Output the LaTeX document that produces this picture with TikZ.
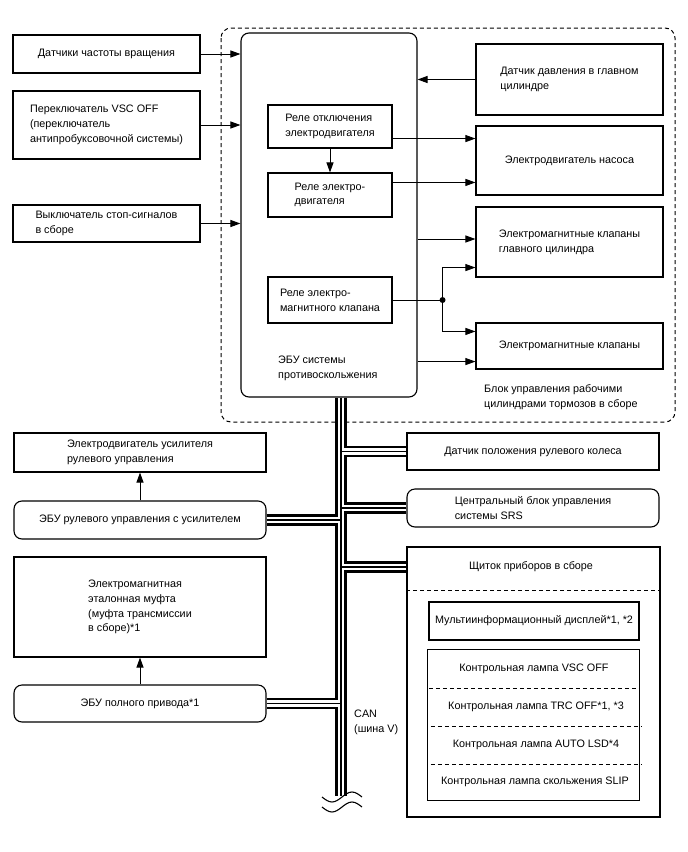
\documentclass[tikz,border=0pt]{standalone}
\usepackage{fontspec}
\setmainfont{Liberation Sans}
\usetikzlibrary{arrows.meta}
\newcommand{\dfont}{\fontsize{10.8}{14.7}\selectfont}
\tikzset{b/.style={draw,line width=1.1pt,align=left,font=\dfont,inner sep=2pt},
 o/.style={b,rounded corners=8pt},
 tx/.style={align=left,font=\dfont,inner sep=0pt},
 ar/.style={line width=1pt,-{Triangle[length=10pt,width=7pt]}},
 dsh/.style={line width=1pt,dash pattern=on 4pt off 3pt},
 bus/.style={draw=white,line width=6.5pt,preaction={draw=black,line width=11.5pt},postaction={draw=black,line width=1.3pt}}}

\begin{document}
\begin{tikzpicture}[x=1pt,y=-1pt]
\useasboundingbox (0,0) rectangle (688,852);
\draw[dsh,rounded corners=10pt] (221,28) rectangle (675,422);
\node[o,minimum width=176pt,minimum height=364pt](ecu) at (329,215){};
\node[tx,anchor=west](ecul) at (278,368){ЭБУ системы\\противоскольжения};
\node[b,minimum width=187pt,minimum height=38pt](spd) at (106.5,54){Датчики частоты вращения};
\node[b,minimum width=187pt,minimum height=68pt](vsc) at (106.5,125){Переключатель VSC OFF\\(переключатель\\антипробуксовочной системы)};
\node[b,minimum width=187pt,minimum height=37pt](stp) at (106.5,223.5){Выключатель стоп-сигналов\\в сборе};
\node[b,minimum width=124pt,minimum height=43pt](r1) at (330,126.5){Реле отключения\\электродвигателя};
\node[b,minimum width=124pt,minimum height=44pt](r2) at (330,195){Реле электро-\\двигателя};
\node[b,minimum width=124pt,minimum height=46pt](r3) at (330,300){Реле электро-\\магнитного клапана};
\node[b,minimum width=187pt,minimum height=71pt](prs) at (569.5,79.5){Датчик давления в главном\\цилиндре};
\node[b,minimum width=187pt,minimum height=69pt](pump) at (569.5,160.5){Электродвигатель насоса};
\node[b,minimum width=187pt,minimum height=70pt](sv1) at (569.5,242){Электромагнитные клапаны\\главного цилиндра};
\node[b,minimum width=187pt,minimum height=46pt](sv2) at (569.5,346){Электромагнитные клапаны};
\node[tx,anchor=west](blk) at (484,397){Блок управления рабочими\\цилиндрами тормозов в сборе};
\node[b,minimum width=252pt,minimum height=39pt](epsm) at (140,452.5){Электродвигатель усилителя\\рулевого управления};
\node[o,minimum width=252pt,minimum height=38pt](eps) at (140,520){ЭБУ рулевого управления с усилителем};
\node[b,minimum width=252pt,minimum height=100pt](cpl) at (140,607){Электромагнитная\\эталонная муфта\\(муфта трансмиссии\\в сборе)*1};
\node[o,minimum width=252pt,minimum height=37pt](awd) at (140,703.5){ЭБУ полного привода*1};
\node[b,minimum width=252pt,minimum height=37pt](sas) at (533,451.5){Датчик положения рулевого колеса};
\node[o,minimum width=252pt,minimum height=38pt](srs) at (533,508){Центральный блок управления\\системы SRS};
\node[b,minimum width=253pt,minimum height=270pt](cmb) at (533.5,682){};
\node[tx](cmbt) at (531,567){Щиток приборов в сборе};
\draw[dsh] ([yshift=-44pt]cmb.north west) -- ([yshift=-44pt]cmb.north east);
\node[b,minimum width=210pt,minimum height=38pt](mfd) at (534,621){Мультиинформационный дисплей*1, *2};
\node[tx,minimum width=210pt,minimum height=38pt](l1) at (534,669){Контрольная лампа VSC OFF};
\node[tx,minimum width=210pt,minimum height=38pt](l2) at (536,707){Контрольная лампа TRC OFF*1, *3};
\node[tx,minimum width=210pt,minimum height=38pt](l3) at (536,745){Контрольная лампа AUTO LSD*4};
\node[tx,minimum width=210pt,minimum height=36pt](l4) at (535,782){Контрольная лампа скольжения SLIP};
\draw[line width=1.1pt] ([xshift=-1pt]l1.north west) rectangle ([xshift=-1pt]l4.south east);
\draw[dsh] (l1.south west) -- (l1.south east);\draw[dsh] (l2.south west) -- (l2.south east);\draw[dsh] (l3.south west) -- (l3.south east);
\node[tx,anchor=west](canl) at (354,722){CAN\\(шина V)};
\draw[ar](spd) -- (spd -| ecu.west);\draw[ar](vsc) -- (vsc -| ecu.west);\draw[ar](stp) -- (stp -| ecu.west);
\draw[ar](prs) -- (prs -| ecu.east);
\coordinate (a1) at ([yshift=10pt]r1.south east);\coordinate (a2) at ([yshift=-10pt]r2.north east);
\draw[ar](a1) -- (a1 -| pump.west);\draw[ar](a2) -- (a2 -| pump.west);\draw[ar](r1) -- (r2);
\coordinate (a3) at ([yshift=3pt]sv1.west);\draw[ar](a3 -| ecu.east) -- (a3);
\coordinate (jn) at ([xshift=50pt]r3.east);\draw[line width=1pt](r3.east) -- (jn);\fill (jn) circle (3pt);
\coordinate (a4) at ([yshift=10pt]sv1.south west);\coordinate (a5) at ([yshift=-9pt]sv2.north west);
\draw[ar](jn) |- (a4);\draw[ar](jn) |- (a5);
\coordinate (a6) at ([yshift=8pt]sv2.south west);\draw[ar](a6 -| ecu.east) -- (a6);
\draw[ar](eps) -- (epsm);\draw[ar](awd) -- (cpl);
\coordinate (can) at (341,796);
\path[bus](can |- ecu.south) -- (can) (sas.west) -- (sas.west -| can) (srs.west) -- (srs.west -| can)
 (eps.east) -- (eps.east -| can) (cmb.west |- cmbt) -- (cmbt -| can) (awd.east) -- (awd.east -| can);
\draw[line width=1.1pt](322,797) sin (332,802) cos (342,797) sin (352,792) cos (362,797);
\draw[line width=1.1pt](322,807) sin (332,812) cos (342,807) sin (352,802) cos (362,807);
\end{tikzpicture}
\end{document}
